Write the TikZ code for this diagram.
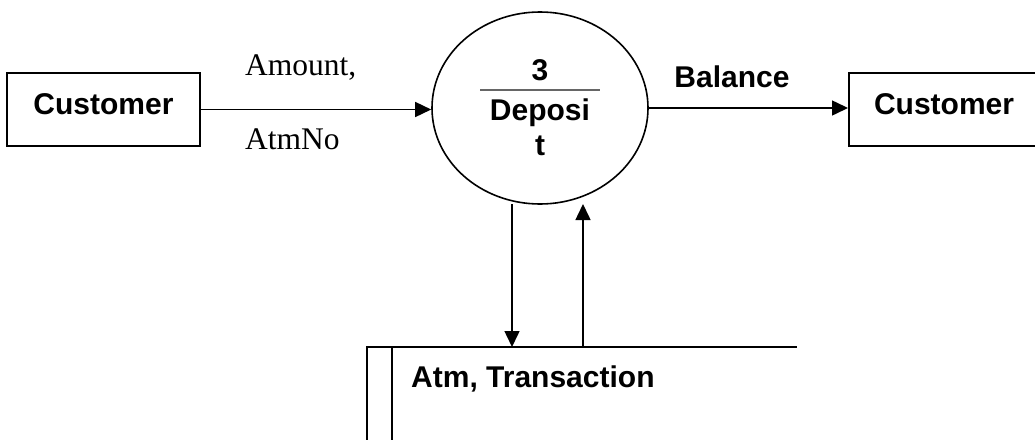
\documentclass[tikz,border=0pt]{standalone}
\usepackage{fontspec}
\setmainfont{Liberation Sans}
\newfontfamily\timesfont{Liberation Serif}
\usetikzlibrary{positioning}
\usetikzlibrary{shapes.geometric}
\usetikzlibrary{arrows.meta}

\begin{document}
\begin{tikzpicture}
  [x=1pt, y=-1pt,
   every node/.style = {font=\fontsize{30}{35}\selectfont\bfseries, inner sep=0pt},
   ent/.style = {draw, line width=2pt, minimum height=73pt, text height=22pt, text depth=13pt},
   proc/.style = {ellipse, draw, line width=1.6pt, minimum width=216pt, minimum height=192pt},
   flowlbl/.style = {font=\fontsize{31.5}{35}\selectfont\timesfont, anchor=base west},
   flow/.style = {line width=1.5pt, -{Triangle[length=16pt, width=15pt]}}]
  \useasboundingbox (0,0) rectangle (1035,439);

  \node (cust1) [ent, minimum width=193pt] at (103.5,109.5) {Customer};
  \node (proc) [proc] at (540,108) {};
  \node (cust2) [ent, anchor=west, text width=176pt, inner xsep=25pt, align=left] at (848,109.5) {Customer};

  \node (pnum) [anchor=base] at (540,80) {3};
  \node (pname) [anchor=base, align=center] at (540,155) {Deposi\\t};
  \draw [gray!80!black, line width=1.3pt] (480,90) -- (600,90);

  \node (amt) [flowlbl] at (245,75) {Amount,};
  \node (atmno) [flowlbl] at (245,149) {AtmNo};
  \node (bal) [anchor=base] at (732,87) {Balance};

  \node (store) [anchor=base west] at (411,387) {Atm, Transaction};
  \coordinate (storetop) at (367,347);
  \draw [line width=2pt] (367,460) -- (storetop) -- (797,347);
  \draw [line width=2pt] (392,347) -- (392,460);

  \coordinate (outa) at (512,204);
  \coordinate (ina) at (583,204);

  \draw [flow] (cust1.east) -- (cust1.east -| proc.west);
  \draw [flow] (proc.east) -- (proc.east -| cust2.west);
  \draw [flow] (outa) -- (outa |- storetop);
  \draw [flow] (ina |- storetop) -- (ina);
\end{tikzpicture}
\end{document}
